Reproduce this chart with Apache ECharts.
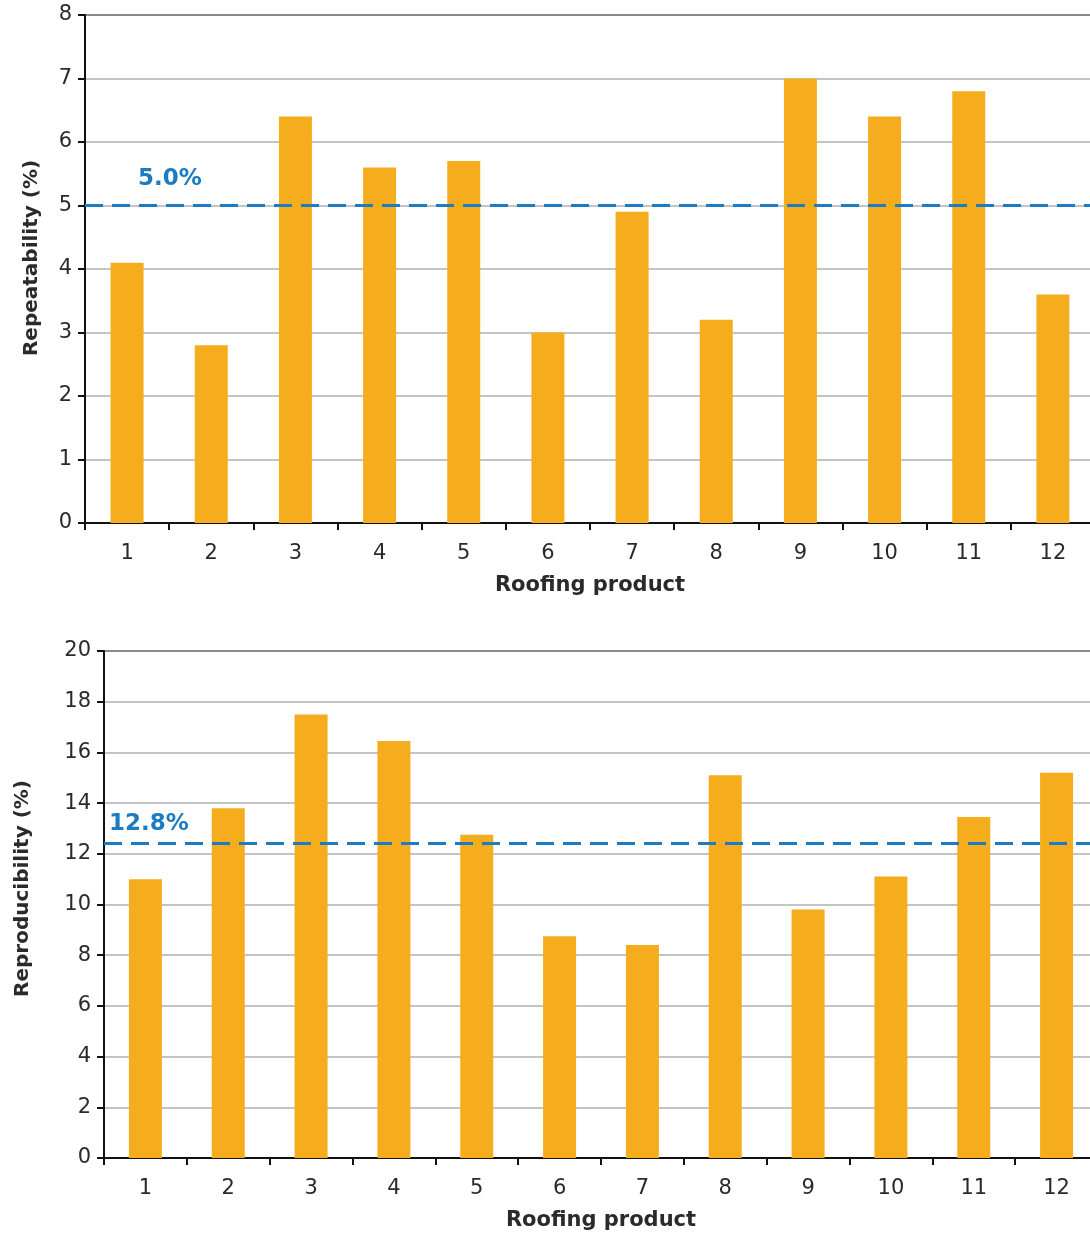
<!DOCTYPE html>
<html>
<head>
<meta charset="utf-8">
<script src="https://cdn.jsdelivr.net/npm/echarts@6/dist/echarts.min.js"></script>
<style>
html,body{margin:0;padding:0;background:#fff;overflow:hidden;width:1090px;height:1238px;}
#c{width:1100px;height:1238px;}
</style>
</head>
<body>
<div id="c"></div>
<script>
const categories = ['1','2','3','4','5','6','7','8','9','10','11','12'];
const repeatability = [4.1, 2.8, 6.4, 5.6, 5.7, 3.0, 4.9, 3.2, 7.0, 6.4, 6.8, 3.6];
const reproducibility = [11.0, 13.8, 17.5, 16.45, 12.75, 8.75, 8.4, 15.1, 9.8, 11.1, 13.45, 15.2];
const repeatLimit = 5.0;
const repeatLimitLabel = '5.0%';
const reproLimit = 12.4;
const reproLimitLabel = '12.8%';

const FONT = 'DejaVu Sans';
const BAR = '#F6AD1D';
const BLUE = '#1B7BC3';
const TXT = '#2a2a2a';

function xAx(gi){
  return {
    type:'category', gridIndex:gi, data:categories,
    axisLine:{lineStyle:{color:'#111', width:2}},
    axisTick:{show:true, length:7, lineStyle:{color:'#111', width:2}},
    axisLabel:{color:TXT, fontFamily:FONT, fontSize:21, margin:20},
    name:'Roofing product', nameLocation:'middle', nameGap:52,
    nameTextStyle:{color:TXT, fontFamily:FONT, fontSize:21, fontWeight:'bold'}
  };
}
function yAx(gi, max, interval, name, gap, shift){
  return {
    type:'value', gridIndex:gi, min:0, max:max, interval:interval,
    axisLine:{show:true, lineStyle:{color:'#111', width:2}},
    axisTick:{show:true, length:7, lineStyle:{color:'#111', width:2}},
    axisLabel:{color:TXT, fontFamily:FONT, fontSize:21, margin:13},
    splitLine:{show:true, lineStyle:{color:'#b0b0b0', width:1.5}},
    name:name, nameLocation:'middle', nameGap:gap, nameRotate:90,
    nameTextStyle:{color:TXT, fontFamily:FONT, fontSize:20, fontWeight:'bold', padding:[0,0,0,shift]}
  };
}

const chart = echarts.init(document.getElementById('c'), null, {renderer:'canvas'});
chart.setOption({
  backgroundColor:'#fff',
  animation:false,
  grid:[
    {left:85, top:15, width:1010, height:508, show:true, borderColor:'#111', borderWidth:2, backgroundColor:'transparent'},
    {left:104, top:651, width:994, height:507, show:true, borderColor:'#111', borderWidth:2, backgroundColor:'transparent'}
  ],
  xAxis:[xAx(0), xAx(1)],
  yAxis:[yAx(0, 8, 1, 'Repeatability (%)', 43, 22), yAx(1, 20, 2, 'Reproducibility (%)', 71, 32)],
  series:[
    {
      type:'bar', xAxisIndex:0, yAxisIndex:0, data:repeatability,
      barWidth:33, itemStyle:{color:BAR},
      markLine:{
        silent:true, symbol:['none','none'],
        lineStyle:{color:BLUE, type:[18,9], width:3},
        label:{show:true, position:'insideStartTop', formatter:repeatLimitLabel,
          color:BLUE, fontFamily:FONT, fontSize:23, fontWeight:'bold', offset:[48,-10]},
        data:[{yAxis:repeatLimit}]
      }
    },
    {
      type:'bar', xAxisIndex:1, yAxisIndex:1, data:reproducibility,
      barWidth:33, itemStyle:{color:BAR},
      markLine:{
        silent:true, symbol:['none','none'],
        lineStyle:{color:BLUE, type:[18,9], width:3},
        label:{show:true, position:'insideStartTop', formatter:reproLimitLabel,
          color:BLUE, fontFamily:FONT, fontSize:23, fontWeight:'bold', offset:[0,-3]},
        data:[{yAxis:reproLimit}]
      }
    }
  ]
});
</script>
</body>
</html>
